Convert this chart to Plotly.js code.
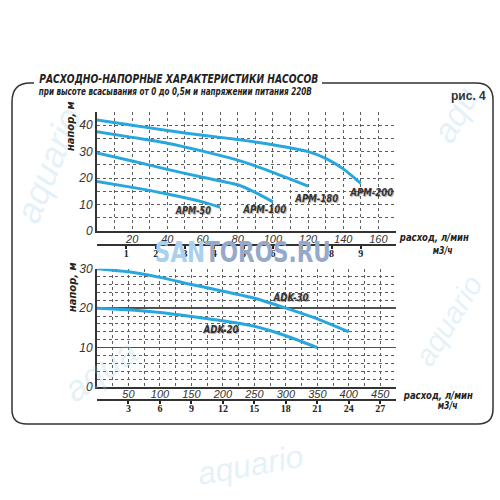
<!DOCTYPE html>
<html><head><meta charset="utf-8">
<script src="https://cdn.plot.ly/plotly-3.0.1.min.js"></script>
<style>html,body{margin:0;padding:0;background:#fff}#chart{width:500px;height:500px}</style>
</head><body><div id="chart"></div>
<script>
// ---- Data (flow l/min, head m) ----
const apm50Flow = [0,20,40,60,70];
const apm50Head = [18.7,16.5,14,11,9];
const apm100Flow = [0,20,40,60,80,90,100];
const apm100Head = [29.5,26.5,23.3,20.3,17.5,14.6,11];
const apm180Flow = [0,20,40,60,80,100,110,120];
const apm180Head = [37.5,35.4,33.2,30.2,26.8,22.2,19.6,17];
const apm200Flow = [0,20,40,60,80,100,120,130,140,150];
const apm200Head = [42,40,38,36.2,34.6,32.6,30,27.5,23.5,18];
const adk30Flow = [0,50,100,150,200,250,300,350,400];
const adk30Head = [30,29.2,27.8,26,24.3,22.5,20,17.3,14];
const adk20Flow = [0,50,100,150,200,250,300,350];
const adk20Head = [20,19.6,18.9,17.9,16.8,15.4,13,10];

const topFlowTicks = [20,40,60,80,100,120,140,160];
const topHeadTicks = [0,10,20,30,40];
const topM3hTicks = [1,2,3,4,5,6,7,8,9];
const botFlowTicks = [50,100,150,200,250,300,350,400,450];
const botHeadTicks = [0,10,20,30];
const botHeadMajor = [10,20];
const botM3hTicks = [3,6,9,12,15,18,21,24,27];
const topFlowMax = 170, topHeadMax = 45, botFlowMax = 475, botHeadMax = 30;
const LPM_PER_M3H = 1000/60;

// ---- Helpers ----
const W = 500, H = 500;
const px = v => v / W;
const py = v => 1 - v / H;
const NARROW = 'Liberation Sans Narrow, DejaVu Sans Condensed, Arial Narrow, sans-serif';
const SANS = 'Liberation Sans, Arial, sans-serif';
const lineColor = '#28a7df';
const gridDot = {gridcolor:'#5e5e5e', griddash:'dot', gridwidth:1};
const tickFontIt = {family:SANS, size:11, color:'#333', style:'italic'};
const tickFontItY = {family:SANS, size:12, color:'#333', style:'italic'};
const m3hFont = {family:'Liberation Serif, Times New Roman, serif', size:10, color:'#222', weight:'bold'};

function curve(x, y, xa, ya) {
  return {x, y, xaxis:xa, yaxis:ya, type:'scatter', mode:'lines',
    line:{color:lineColor, width:3, shape:'spline', smoothing:0.6},
    hoverinfo:'skip', showlegend:false};
}
function ghost(x, xa, ya) {
  return {x, y:x.map(()=>null), xaxis:xa, yaxis:ya, type:'scatter', mode:'markers',
    marker:{opacity:0}, hoverinfo:'skip', showlegend:false};
}

const data = [
  curve(apm200Flow, apm200Head, 'x', 'y'),
  curve(apm180Flow, apm180Head, 'x', 'y'),
  curve(apm100Flow, apm100Head, 'x', 'y'),
  curve(apm50Flow, apm50Head, 'x', 'y'),
  curve(adk30Flow, adk30Head, 'x3', 'y3'),
  curve(adk20Flow, adk20Head, 'x3', 'y3'),
  ghost(topM3hTicks, 'x2', 'y'),
  ghost(botM3hTicks, 'x4', 'y3'),
  ghost(botFlowTicks, 'x3', 'y4')
];

const xDom = [px(97), px(396)];
const layout = {
  width:W, height:H, margin:{l:0,r:0,t:0,b:0},
  paper_bgcolor:'#fff', plot_bgcolor:'rgba(0,0,0,0)',
  showlegend:false,
  xaxis:{domain:xDom, anchor:'y', range:[0, topFlowMax], tickmode:'array', tickvals:topFlowTicks,
    ticks:'', ticklabelstandoff:-3, showgrid:true, ...gridDot, minor:{dtick:10, tick0:0, showgrid:true, ...gridDot},
    showline:true, linecolor:'#333', linewidth:2, zeroline:false, tickfont:tickFontIt, fixedrange:true},
  yaxis:{domain:[py(231), py(112)], anchor:'x', range:[0, topHeadMax], tickmode:'array', tickvals:topHeadTicks,
    ticks:'', showgrid:true, ...gridDot, minor:{dtick:5, tick0:0, showgrid:true, ...gridDot},
    showline:true, linecolor:'#333', linewidth:2, zeroline:false, tickfont:tickFontItY, fixedrange:true},
  xaxis2:{overlaying:'x', anchor:'free', position:py(244), side:'bottom',
    range:[0, topFlowMax/LPM_PER_M3H], tickmode:'array', tickvals:topM3hTicks,
    ticks:'outside', ticklen:3, tickwidth:2, tickcolor:'#222', ticklabelstandoff:-4,
    showline:true, linecolor:'#333', linewidth:1.5,
    showgrid:false, zeroline:false, tickfont:m3hFont, fixedrange:true},
  xaxis3:{domain:xDom, anchor:'y3', range:[0, botFlowMax], tickmode:'array', tickvals:botFlowTicks,
    ticks:'', ticklabelstandoff:-4, showgrid:true, ...gridDot, minor:{dtick:25, tick0:0, showgrid:true, ...gridDot},
    showline:true, linecolor:'#333', linewidth:2, zeroline:false, tickfont:tickFontIt, fixedrange:true},
  yaxis3:{domain:[py(387), py(268.7)], anchor:'x3', range:[0, botHeadMax], tickmode:'array', tickvals:botHeadTicks,
    ticks:'', showgrid:true, ...gridDot, minor:{dtick:2, tick0:0, showgrid:true, ...gridDot},
    showline:true, linecolor:'#333', linewidth:2, zeroline:false, tickfont:tickFontItY, fixedrange:true},
  yaxis4:{overlaying:'y3', anchor:'x3', range:[0, botHeadMax], tickmode:'array', tickvals:botHeadMajor,
    ticks:'', showticklabels:false, showgrid:true, gridcolor:'#505050', gridwidth:1.6, zeroline:false, fixedrange:true},
  xaxis4:{overlaying:'x3', anchor:'free', position:py(399), side:'bottom',
    range:[0, botFlowMax/LPM_PER_M3H], tickmode:'array', tickvals:botM3hTicks,
    ticks:'outside', ticklen:3, tickwidth:2, tickcolor:'#222', ticklabelstandoff:-4,
    showline:true, linecolor:'#333', linewidth:1.5,
    showgrid:false, zeroline:false, tickfont:m3hFont, fixedrange:true},
  shapes:[{
    type:'path', xref:'paper', yref:'paper', layer:'below',
    line:{color:'#333', width:1.5},
    path:`M ${px(34)},${py(83)} L ${px(30)},${py(83)} Q ${px(12)},${py(83)} ${px(12)},${py(102)} `+
         `L ${px(12)},${py(410)} Q ${px(12)},${py(424)} ${px(27)},${py(424)} `+
         `L ${px(478)},${py(424)} Q ${px(493)},${py(424)} ${px(493)},${py(409)} `+
         `L ${px(493)},${py(100)} Q ${px(493)},${py(83)} ${px(476)},${py(83)} L ${px(322)},${py(83)}`
  }],
  annotations:[]
};

const ann = layout.annotations;
const fitWidths = [];   // target pixel widths for text (horizontal condensing)
function addAnn(a, w) {
  ann.push(Object.assign({showarrow:false, xanchor:'center', yanchor:'middle'}, a));
  fitWidths.push(w || null);
}
// faint background watermarks
const wmColor = 'rgba(150,200,232,0.25)';
[[48,165,-68,'aquario',36],[455,115,-60,'aqu',34],[448,320,-58,'aquario',30],[100,370,-35,'aqua',36],[250,465,-10,'aquario',32]].forEach(w=>{
  addAnn({xref:'paper', yref:'paper', x:px(w[0]), y:py(w[1]), text:w[3], textangle:w[2],
    font:{family:SANS, size:w[4], color:wmColor, style:'italic'}});
});
addAnn({xref:'paper', yref:'paper', x:px(243), y:py(252), text:'<span style="color:#a9d0ee">SAN</span><span style="color:#95aacb">TOROS.RU</span>',
  font:{family:NARROW, size:28, weight:'bold', color:'#95aacb'}}, 176);

// titles
addAnn({xref:'paper', yref:'paper', x:px(178.5), y:py(78), text:'РАСХОДНО-НАПОРНЫЕ ХАРАКТЕРИСТИКИ НАСОСОВ',
  font:{family:NARROW, size:13, weight:'bold', style:'italic', color:'#222'}}, 279);
addAnn({xref:'paper', yref:'paper', x:px(175.5), y:py(92), text:'при высоте всасывания от 0 до 0,5м и напряжении питания 220В',
  font:{family:NARROW, size:10, weight:'bold', style:'italic', color:'#222'}}, 273);
addAnn({xref:'paper', yref:'paper', x:px(468), y:py(96), text:'рис. 4',
  font:{family:SANS, size:12, weight:'bold', color:'#333'}});

// axis titles
const axT = {family:NARROW, size:11, weight:'bold', style:'italic', color:'#222'};
addAnn({xref:'paper', yref:'paper', x:px(70), y:py(126), text:'напор, м', textangle:-90, font:axT});
addAnn({xref:'paper', yref:'paper', x:px(72), y:py(287), text:'напор, м', textangle:-90, font:axT});
addAnn({xref:'paper', yref:'paper', x:px(434), y:py(237), text:'расход, л/мин', font:axT}, 69);
addAnn({xref:'paper', yref:'paper', x:px(443), y:py(250), text:'м3/ч', font:axT}, 20);
addAnn({xref:'paper', yref:'paper', x:px(438), y:py(395), text:'расход, л/мин', font:axT}, 69);
addAnn({xref:'paper', yref:'paper', x:px(448), y:py(405), text:'м3/ч', font:axT}, 20);

// curve labels
const labF = {family:NARROW, size:11, weight:'bold', style:'italic', color:'#333', shadow:'1px 1px 1px rgba(0,0,0,0.35)'};
[['APM-50',54.4,7.6,'x','y',35],['APM-100',95,8,'x','y',43],['APM-180',124.6,12.2,'x','y',43],['APM-200',156,14.7,'x','y',43],
 ['ADK-30',306.8,22.6,'x3','y3',35],['ADK-20',195.5,14.6,'x3','y3',35]].forEach(l=>{
  addAnn({xref:l[3], yref:l[4], x:l[1], y:l[2], text:l[0], font:labF}, l[5]);
});

Plotly.newPlot('chart', data, layout, {staticPlot:true, displayModeBar:false}).then(gd=>{
  gd.querySelectorAll('g.annotation').forEach(g=>{
    const i = +g.getAttribute('data-index');
    const w = fitWidths[i];
    if (!w) return;
    const t = g.querySelector('text.annotation-text');
    if (!t) return;
    const cur = t.getComputedTextLength();
    if (cur > w) {
      t.setAttribute('textLength', w);
      t.setAttribute('lengthAdjust', 'spacingAndGlyphs');
    }
  });
});
</script>
</body></html>
